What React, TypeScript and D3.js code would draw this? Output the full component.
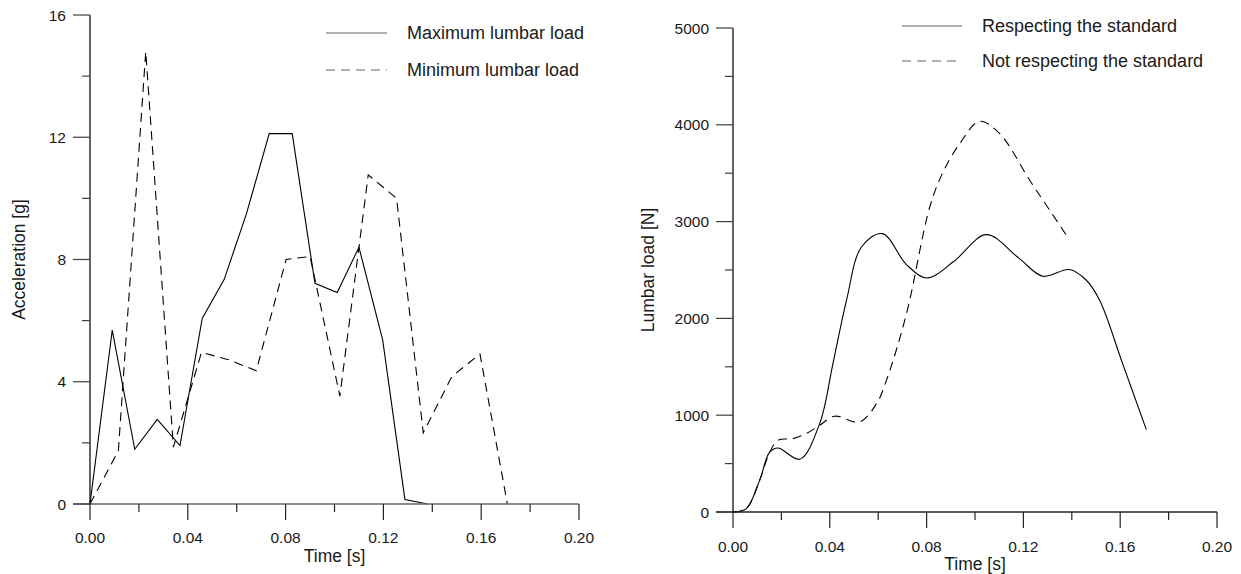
import React from "react";
import * as d3 from "d3";

// Left chart: acceleration
const accMaxT = [0, 0.0091, 0.0183, 0.0275, 0.0368, 0.0459, 0.0549, 0.064, 0.0733, 0.0827, 0.092, 0.1011, 0.110, 0.1197, 0.1288, 0.138];
const accMaxV = [0, 5.69, 1.79, 2.77, 1.91, 6.07, 7.35, 9.5, 12.12, 12.12, 7.22, 6.92, 8.4, 5.37, 0.15, 0];
const accMinT = [0, 0.0116, 0.0228, 0.0341, 0.0456, 0.0567, 0.068, 0.0802, 0.09, 0.1022, 0.1138, 0.1254, 0.1363, 0.148, 0.1595, 0.1707];
const accMinV = [0, 1.74, 14.8, 1.86, 4.96, 4.72, 4.36, 8.0, 8.1, 3.53, 10.77, 10.0, 2.33, 4.17, 4.91, 0];

// Right chart: lumbar load
const loadRespT = [0, 0.0055, 0.011, 0.0152, 0.0186, 0.0276, 0.0358, 0.0413, 0.0469, 0.0531, 0.0617, 0.0717, 0.0802, 0.0913, 0.1047, 0.118, 0.128, 0.139, 0.146, 0.1515, 0.161, 0.1708];
const loadRespV = [0, 35, 327, 620, 661, 545, 913, 1533, 2187, 2738, 2876, 2556, 2418, 2590, 2865, 2625, 2436, 2505, 2394, 2187, 1533, 851];
const loadNotT = [0, 0.0055, 0.011, 0.0152, 0.0186, 0.0248, 0.0303, 0.0358, 0.042, 0.0523, 0.0593, 0.0634, 0.0717, 0.0813, 0.0868, 0.0937, 0.1019, 0.1102, 0.1226, 0.1309, 0.1378];
const loadNotV = [0, 35, 327, 620, 741, 758, 810, 896, 989, 930, 1120, 1360, 2050, 3151, 3512, 3805, 4036, 3909, 3427, 3116, 2858];

const xTicks = [0, 0.04, 0.08, 0.12, 0.16, 0.2];
const xMinor = [0.02, 0.06, 0.1, 0.14, 0.18];
const accTicks = [0, 4, 8, 12, 16];
const accMinor = [2, 6, 10, 14];
const loadTicks = [0, 1000, 2000, 3000, 4000, 5000];
const loadMinor = [500, 1500, 2500, 3500, 4500];

const accLegend = ["Maximum lumbar load", "Minimum lumbar load"];
const loadLegend = ["Respecting the standard", "Not respecting the standard"];

const FONT = "'Liberation Sans', Arial, sans-serif";
const AX = "#404040";
const DASH = "9,6";

type Panel = {
  x0: number; x1: number; y0: number; y1: number;
  yDomain: [number, number];
  yTicks: number[]; yMinor: number[];
  yFmt: (v: number) => string;
  yTitle: string; yTitleX: number;
  xLabelY: number; xTitleY: number;
  xAxisColor: string;
  series: { t: number[]; v: number[]; dashed: boolean; smooth: boolean }[];
  legend: string[]; legX0: number; legX1: number; legTextX: number; legY: number[];
};

function Chart({ p }: { p: Panel }) {
  const x = d3.scaleLinear().domain([0, 0.2]).range([p.x0, p.x1]);
  const y = d3.scaleLinear().domain(p.yDomain).range([p.y1, p.y0]);
  return (
    <g>
      {p.series.map((s, i) => {
        const pts: [number, number][] = s.t.map((t, j) => [t, s.v[j]]);
        const line = d3.line<[number, number]>()
          .x(d => x(d[0]))
          .y(d => y(d[1]))
          .curve(s.smooth ? d3.curveCatmullRom.alpha(0.5) : d3.curveLinear);
        return (
          <path key={i} d={line(pts) || ""} fill="none" stroke="#000" strokeWidth={1.1}
            strokeDasharray={s.dashed ? DASH : undefined} />
        );
      })}
      {/* axes */}
      <line x1={p.x0 - 17} x2={p.x1} y1={p.y1} y2={p.y1} stroke={p.xAxisColor} strokeWidth={1.3} />
      <line x1={p.x0} x2={p.x0} y1={p.y0} y2={p.y1} stroke="#111" strokeWidth={1.3} />
      {xTicks.map(t => (
        <g key={"xt" + t}>
          <line x1={x(t)} x2={x(t)} y1={p.y1} y2={p.y1 + 16} stroke="#222" strokeWidth={1.2} />
          <text x={x(t)} y={p.xLabelY} textAnchor="middle" dominantBaseline="central"
            fontFamily={FONT} fontSize={15.5} fill="#1a1a1a">{t.toFixed(2)}</text>
        </g>
      ))}
      {xMinor.map(t => (
        <line key={"xm" + t} x1={x(t)} x2={x(t)} y1={p.y1} y2={p.y1 + 8} stroke="#222" strokeWidth={1.2} />
      ))}
      {p.yTicks.map(v => (
        <g key={"yt" + v}>
          <line x1={p.x0 - 17} x2={p.x0} y1={y(v)} y2={y(v)} stroke={AX} strokeWidth={1.2} />
          <text x={p.x0 - 24} y={y(v)} textAnchor="end" dominantBaseline="central"
            fontFamily={FONT} fontSize={15.5} fill="#1a1a1a">{p.yFmt(v)}</text>
        </g>
      ))}
      {p.yMinor.map(v => (
        <line key={"ym" + v} x1={p.x0 - 8} x2={p.x0} y1={y(v)} y2={y(v)} stroke={AX} strokeWidth={1.2} />
      ))}
      <text x={(p.x0 + p.x1) / 2} y={p.xTitleY} textAnchor="middle" dominantBaseline="central"
        fontFamily={FONT} fontSize={17.5} fill="#1a1a1a">Time [s]</text>
      <text transform={`translate(${p.yTitleX},${(p.y0 + p.y1) / 2}) rotate(-90)`} textAnchor="middle"
        dominantBaseline="central" fontFamily={FONT} fontSize={17.5} fill="#1a1a1a">{p.yTitle}</text>
      {p.legend.map((l, i) => (
        <g key={"lg" + i}>
          <line x1={p.legX0} x2={p.legX1} y1={p.legY[i]} y2={p.legY[i]} stroke="#666" strokeWidth={1.2}
            strokeDasharray={i === 1 ? DASH : undefined} />
          <text x={p.legTextX} y={p.legY[i]} dominantBaseline="central" fontFamily={FONT} fontSize={18}
            fill="#1a1a1a">{l}</text>
        </g>
      ))}
    </g>
  );
}

export default function App() {
  const left: Panel = {
    x0: 90, x1: 579, y0: 15, y1: 504,
    yDomain: [0, 16], yTicks: accTicks, yMinor: accMinor, yFmt: v => String(v),
    yTitle: "Acceleration [g]", yTitleX: 19,
    xLabelY: 537, xTitleY: 556, xAxisColor: "#666",
    series: [
      { t: accMaxT, v: accMaxV, dashed: false, smooth: false },
      { t: accMinT, v: accMinV, dashed: true, smooth: false },
    ],
    legend: accLegend, legX0: 326, legX1: 387, legTextX: 407, legY: [33, 70],
  };
  const right: Panel = {
    x0: 733, x1: 1217, y0: 28, y1: 512,
    yDomain: [0, 5000], yTicks: loadTicks, yMinor: loadMinor, yFmt: v => String(v),
    yTitle: "Lumbar load [N]", yTitleX: 648,
    xLabelY: 546, xTitleY: 564, xAxisColor: "#222",
    series: [
      { t: loadRespT, v: loadRespV, dashed: false, smooth: true },
      { t: loadNotT, v: loadNotV, dashed: true, smooth: true },
    ],
    legend: loadLegend, legX0: 902, legX1: 962, legTextX: 982, legY: [26, 61],
  };
  return (
    <svg width={1241} height={574} style={{ position: "absolute", left: 0, top: 0, background: "#fff" }}>
      <rect width={1241} height={574} fill="#fff" />
      <Chart p={left} />
      <Chart p={right} />
    </svg>
  );
}
